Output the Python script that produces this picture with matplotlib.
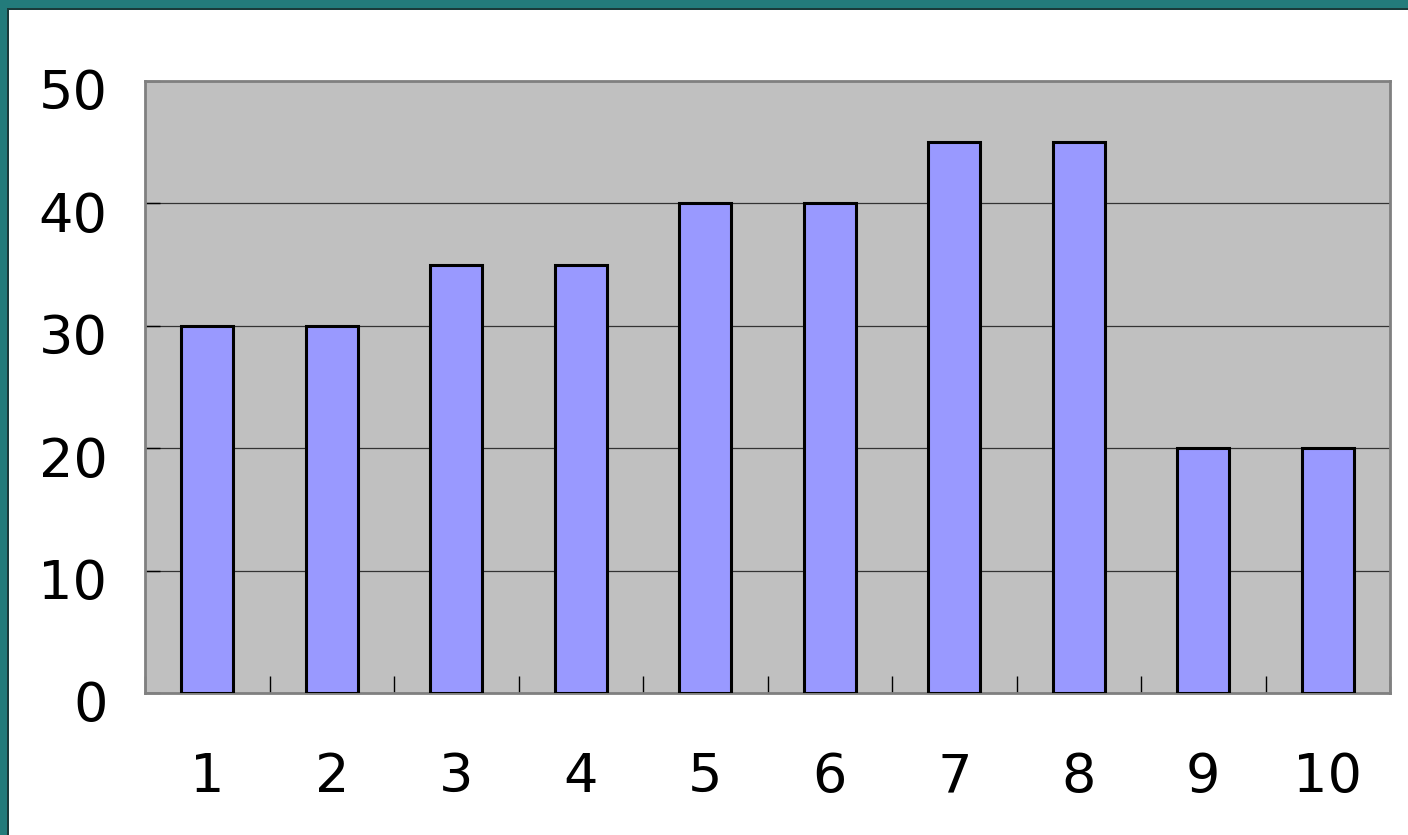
import matplotlib.pyplot as plt
from matplotlib.patches import Rectangle
from matplotlib.transforms import ScaledTranslation
import numpy as np

# bar chart data
categories = ['1', '2', '3', '4', '5', '6', '7', '8', '9', '10']
values = [30, 30, 35, 35, 40, 40, 45, 45, 20, 20]
y_ticks = [0, 10, 20, 30, 40, 50]

fig = plt.figure(figsize=(14.08, 8.35), dpi=100)
fig.patch.set_facecolor('white')

# teal slide frame on the top and left edges
teal = '#237B7B'
fig.patches.append(Rectangle((0, 1 - 8 / 835), 1, 8 / 835, transform=fig.transFigure,
                             facecolor=teal, edgecolor='none', zorder=0))
fig.patches.append(Rectangle((0, 1 - 10 / 835), 1, 2 / 835, transform=fig.transFigure,
                             facecolor='#1a3a3a', edgecolor='none', zorder=0))
fig.patches.append(Rectangle((0, 0), 7 / 1408, 1, transform=fig.transFigure,
                             facecolor=teal, edgecolor='none', zorder=0))
fig.patches.append(Rectangle((7 / 1408, 0), 2 / 1408, 1 - 8 / 835, transform=fig.transFigure,
                             facecolor='#1a3a3a', edgecolor='none', zorder=0))

ax = fig.add_axes([145 / 1408, 1 - 693 / 835, (1390 - 145) / 1408, (693 - 81) / 835])
ax.set_facecolor('#C0C0C0')

x = np.arange(len(categories))
ax.bar(x, values, width=0.42, color='#9999FF', edgecolor='black', linewidth=2.2, zorder=3)

ax.set_xlim(-0.5, len(categories) - 0.5)
ax.set_ylim(0, 50)

# horizontal gridlines
ax.set_yticks(y_ticks)
ax.yaxis.grid(True, color='#333333', linewidth=0.9, zorder=1)
ax.set_axisbelow(True)

# category labels at bar centres, tick marks on the boundaries
ax.set_xticks(x)
ax.set_xticklabels(categories)
ax.set_xticks(np.arange(len(categories) + 1) - 0.5, minor=True)
ax.tick_params(axis='x', which='major', length=0, pad=42, labelsize=39)
ax.tick_params(axis='x', which='minor', direction='in', length=12, width=1, color='black')
ax.tick_params(axis='y', direction='in', length=11, width=1, color='black', pad=27, labelsize=39)

# nudge y labels slightly below their gridlines
for lab in ax.get_yticklabels():
    lab.set_transform(lab.get_transform() + ScaledTranslation(0, -8 / 100, fig.dpi_scale_trans))

for s in ax.spines.values():
    s.set_color('#808080')
    s.set_linewidth(2)

fig.savefig('out.png', dpi=100)
